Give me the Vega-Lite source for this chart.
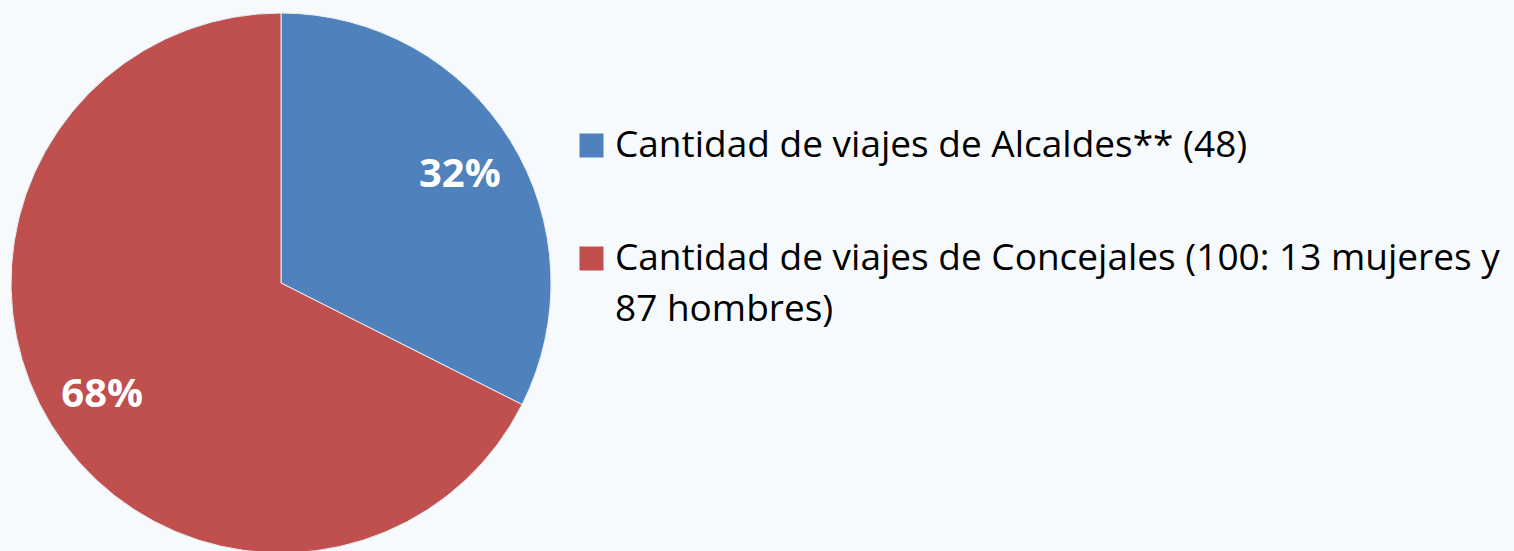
{
  "$schema": "https://vega.github.io/schema/vega-lite/v6.json",
  "width": 562,
  "height": 566,
  "padding": {"left": 0, "top": 0, "right": 16, "bottom": 0},
  "autosize": {"type": "pad"},
  "background": "#f7fafd",
  "data": {
    "values": [
      {"grupo": "Cantidad de viajes de Alcaldes** (48)", "viajes": 48, "pct": "32%"},
      {"grupo": "Cantidad de viajes de Concejales (100: 13 mujeres y 87 hombres)", "viajes": 100, "pct": "68%"}
    ]
  },
  "encoding": {
    "theta": {"field": "viajes", "type": "quantitative", "stack": true},
    "order": {"field": "grupo", "type": "nominal"}
  },
  "layer": [
    {
      "mark": {"type": "arc", "outerRadius": 270, "stroke": "#e8eef6", "strokeWidth": 1},
      "encoding": {
        "color": {
          "field": "grupo",
          "type": "nominal",
          "scale": {"range": ["#4F81BD", "#C0504D"]},
          "legend": {
            "orient": "none",
            "legendX": 573,
            "legendY": 127,
            "title": null,
            "padding": 0,
            "symbolType": "square",
            "symbolSize": 576,
            "symbolStrokeWidth": 0,
            "symbolOpacity": 1,
            "labelFont": "Open Sans",
            "labelFontSize": 37,
            "labelColor": "#000000",
            "labelLimit": 0,
            "labelOffset": 5,
            "rowPadding": 75,
            "labelExpr": "indexof(datum.label, ' y 87') > 0 ? ['Cantidad de viajes de Concejales (100: 13 mujeres y', '87 hombres)'] : datum.label"
          }
        }
      }
    },
    {
      "mark": {"type": "text", "radius": 210, "font": "Open Sans", "fontSize": 40, "fontWeight": "bold", "color": "#ffffff", "align": "center", "baseline": "middle", "dy": 2},
      "encoding": {
        "text": {"field": "pct", "type": "nominal"}
      }
    }
  ],
  "config": {
    "view": {"stroke": null},
    "style": {"guide-label": {"lineHeight": 51}}
  }
}
